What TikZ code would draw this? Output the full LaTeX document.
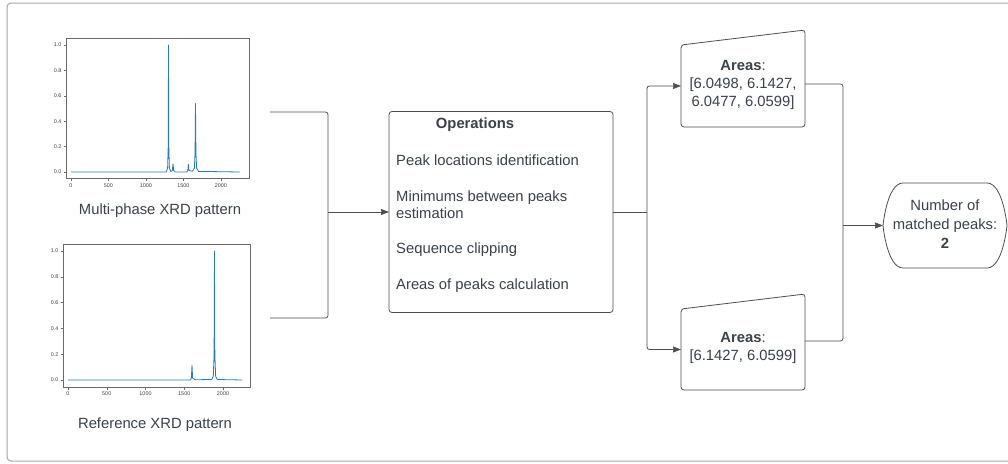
\documentclass[tikz,border=0pt]{standalone}
\usepackage{fontspec}
\setmainfont{Liberation Sans}
\usetikzlibrary{arrows.meta,calc}
\definecolor{ln}{HTML}{4D4F55}
\definecolor{tx}{HTML}{3A414B}
\definecolor{fr}{HTML}{A2A6AD}
\definecolor{pl}{HTML}{2A7BBA}
\definecolor{ax}{HTML}{6A6A6A}
\begin{document}
\begin{tikzpicture}[x=1pt,y=-1pt,
  conn/.style={draw=ln, line width=0.8pt, rounded corners=2.5pt},
  arr/.style={conn, -{Stealth[length=8pt,width=6pt,inset=0.5pt]}},
  txt/.style={text=tx, font=\fontsize{14.8}{18}\selectfont, inner sep=0pt},
  shp/.style={draw=ln, line width=0.8pt, rounded corners=3pt, fill=white},
  anch/.style={inner sep=0pt, outer sep=0pt},
  tick/.style={font=\fontsize{5.4}{6}\selectfont, text=black!75, inner sep=0pt},
  axf/.style={draw=ax, line width=0.5pt},
  curve/.style={draw=pl, line width=0.8pt, line join=round}]
\clip (0,0) rectangle (1008,463);
\fill[white] (0,0) rectangle (1008,463);
% outer frame
\draw[fr, line width=1pt, rounded corners=4pt] (7,3) rectangle (1030,461);

% ---------- plot 1 ----------
\draw[axf] (66,38) rectangle (249,178);
\foreach \v/\l in {0/0.0,0.2/0.2,0.4/0.4,0.6/0.6,0.8/0.8,1/1.0}{
  \draw[ax, line width=0.4pt] (63.5,{172-\v*127}) -- (66,{172-\v*127});
  \node[tick, anchor=east] at (61.5,{172-\v*127}) {\l};}
\foreach \d in {0,500,1000,1500,2000}{
  \draw[ax, line width=0.4pt] ({71+\d*0.075},178) -- ({71+\d*0.075},180.5);
  \node[tick] at ({71+\d*0.075},185.5) {\d};}
\begin{scope}[shift={(71,172)}, x=0.075pt, y=127pt]
\draw[curve] (0,0) -- (1270,0) -- (1288,0.03) -- (1296,0.2) -- (1300,1) -- (1304,0.2) -- (1312,0.03) -- (1332,0.004) -- (1351,0.012) -- (1360,0.065) -- (1369,0.012) -- (1392,0) -- (1545,0) -- (1557,0.012) -- (1565,0.06) -- (1573,0.012) -- (1620,0.006) -- (1645,0.03) -- (1654,0.15) -- (1660,0.54) -- (1666,0.15) -- (1675,0.03) -- (1700,0.005) -- (2250,0);
\end{scope}
\node[txt] (lab1) at (160,211) {Multi-phase XRD pattern};

% ---------- plot 2 ----------
\draw[axf] (63,244) rectangle (250,387);
\foreach \v/\l in {0/0.0,0.2/0.2,0.4/0.4,0.6/0.6,0.8/0.8,1/1.0}{
  \draw[ax, line width=0.4pt] (60.5,{380-\v*129}) -- (63,{380-\v*129});
  \node[tick, anchor=east] at (58.5,{380-\v*129}) {\l};}
\foreach \d in {0,500,1000,1500,2000}{
  \draw[ax, line width=0.4pt] ({68+\d*0.0775},387) -- ({68+\d*0.0775},389.5);
  \node[tick] at ({68+\d*0.0775},394) {\d};}
\begin{scope}[shift={(68,380)}, x=0.0775pt, y=129pt]
\draw[curve] (0,0) -- (1580,0) -- (1592,0.015) -- (1600,0.115) -- (1608,0.015) -- (1640,0.002) -- (1855,0.004) -- (1875,0.03) -- (1885,0.2) -- (1890,1) -- (1895,0.2) -- (1905,0.03) -- (1925,0.004) -- (2250,0);
\end{scope}
\node[txt] (lab2) at (155,425) {Reference XRD pattern};

% ---------- bracket into operations ----------
\coordinate (in1) at (270,112);
\coordinate (in2) at (270,318);
\coordinate (j1) at (328,212);
\node[shp, anch, minimum width=224pt, minimum height=201pt] (ops) at (501,212) {};
\draw[conn] (in1) -| (j1) |- (in2);
\draw[arr] (j1) -- (ops.west);
\node[txt, font=\fontsize{14.8}{18}\selectfont\bfseries] (opt) at (475,125) {Operations};
\node[txt, anchor=west] (op1) at (396,160) {Peak locations identification};
\node[txt, anchor=west, align=left, font=\fontsize{14.8}{17}\selectfont] (op2) at (396,205) {Minimums between peaks\\estimation};
\node[txt, anchor=west] (op3) at (396,250) {Sequence clipping};
\node[txt, anchor=west] (op4) at (396,286) {Areas of peaks calculation};

% ---------- area shapes ----------
\node[anch, minimum width=124pt, minimum height=82pt] (a1) at (743,86) {};
\draw[shp] (a1.south west) -- (a1.north west) -- ([yshift=15pt]a1.north east) -- (a1.south east) -- cycle;
\node[txt, align=center] (a1t) at (743,85) {\textbf{Areas}:\\{[}6.0498, 6.1427,\\6.0477, 6.0599{]}};

\node[anch, minimum width=124pt, minimum height=81pt] (a2) at (743,349.5) {};
\draw[shp] (a2.south west) -- (a2.north west) -- ([yshift=15pt]a2.north east) -- (a2.south east) -- cycle;
\node[txt, align=center] (a2t) at (743,347.5) {\textbf{Areas}:\\{[}6.1427, 6.0599{]}};

\coordinate (split) at (647,212);
\draw[conn] (ops.east) -- (split);
\draw[arr] (split) |- (a1.west);
\draw[arr] (split) |- (a2.west);

% ---------- terminal ----------
\node[anch, minimum width=124pt, minimum height=85pt] (term) at (945,225.5) {};
\draw[draw=ln, line width=0.8pt, fill=white]
  ([xshift=20pt]term.north west) -- ([xshift=-20pt]term.north east)
  .. controls ([xshift=-4pt]term.north east) and (term.east) .. (term.east)
  .. controls (term.east) and ([xshift=-4pt]term.south east) .. ([xshift=-20pt]term.south east)
  -- ([xshift=20pt]term.south west)
  .. controls ([xshift=4pt]term.south west) and (term.west) .. (term.west)
  .. controls (term.west) and ([xshift=4pt]term.north west) .. ([xshift=20pt]term.north west) -- cycle;
\node[txt, align=center, font=\fontsize{14.8}{19}\selectfont] (termt) at (945,224) {Number of\\matched peaks:\\\textbf{2}};

\coordinate (m) at (843,225.5);
\draw[conn] ([yshift=2pt]a1.east) -| (m);
\draw[conn] ([yshift=8.5pt]a2.east) -| (m);
\draw[arr] (m) -- (term.west);
\end{tikzpicture}
\end{document}
